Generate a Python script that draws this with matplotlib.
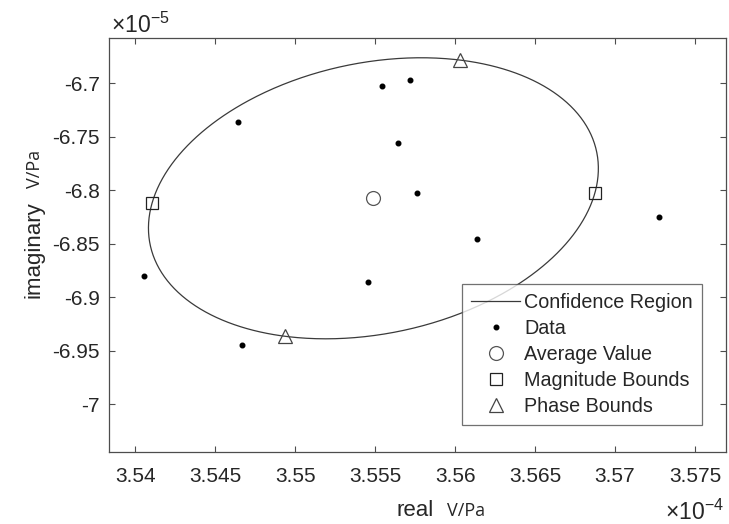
import matplotlib
matplotlib.use("Agg")
import matplotlib.pyplot as plt
from matplotlib.lines import Line2D
from matplotlib.ticker import FuncFormatter
import numpy as np

# 数据 (实部 ×1e-4, 虚部 ×1e-5)
real_vals = [3.54641, 3.55544, 3.55717, 3.55641, 3.55764,
             3.57275, 3.56138, 3.54054, 3.55454, 3.54665]
imag_vals = [-6.7359, -6.7022, -6.6972, -6.7558, -6.8025,
             -6.8253, -6.8457, -6.8803, -6.8856, -6.9448]
real_scale = 1e-4
imag_scale = 1e-5
conf_k = 1.57  # 置信区域的缩放系数

x_ticks = [3.54, 3.545, 3.55, 3.555, 3.56, 3.565, 3.57, 3.575]
y_ticks = [-7.0, -6.95, -6.9, -6.85, -6.8, -6.75, -6.7]
legend_labels = ["Confidence Region", "Data", "Average Value",
                 "Magnitude Bounds", "Phase Bounds"]

plt.rcParams["font.family"] = ["Liberation Sans", "DejaVu Sans"]
plt.rcParams["axes.unicode_minus"] = False
plt.rcParams["mathtext.fontset"] = "custom"
plt.rcParams["mathtext.rm"] = "Liberation Sans"
plt.rcParams["mathtext.default"] = "regular"

W, H = 729, 524
txt_c = "#262626"

# 物理量
z = np.array(real_vals) * real_scale + 1j * np.array(imag_vals) * imag_scale
mu = z.mean()
cov = np.cov(z.real, z.imag)
evals, evecs = np.linalg.eigh(cov)
t = np.linspace(0, 2 * np.pi, 721)
circ = np.vstack([np.cos(t), np.sin(t)])
pts = evecs @ (np.sqrt(evals)[:, None] * circ) * conf_k
ell = mu + pts[0] + 1j * pts[1]

# 幅值和相位的边界
mag = np.abs(ell)
ph = np.angle(ell)
mag_b = ell[[np.argmin(mag), np.argmax(mag)]]
ph_b = ell[[np.argmin(ph), np.argmax(ph)]]

def sx(v):
    return np.real(v) / real_scale

def sy(v):
    return np.imag(v) / imag_scale

fig = plt.figure(figsize=(W / 100, H / 100), dpi=100)
ax = fig.add_axes([109.3 / W, 1 - 451.7 / H, (725.7 - 109.3) / W, (451.7 - 37.7) / H])

ax.plot(sx(ell), sy(ell), color="#3a3a3a", lw=0.9)
ax.plot(sx(z), sy(z), "o", color="black", ms=3.3, ls="none")
ax.plot(sx(mu), sy(mu), "o", mfc="white", mec="#555555", mew=0.9, ms=10)
ax.plot(sx(mag_b), sy(mag_b), "s", mfc="none", mec="#222222", mew=0.9, ms=8, ls="none")
ax.plot(sx(ph_b), sy(ph_b), "^", mfc="none", mec="#444444", mew=0.9, ms=10.5, ls="none")

ax.set_xlim(3.53838, 3.57692)
ax.set_ylim(-7.0446, -6.6573)
ax.set_xticks(x_ticks)
ax.set_yticks(y_ticks)
fmt = FuncFormatter(lambda v, _: f"{v:g}")
ax.xaxis.set_major_formatter(fmt)
ax.yaxis.set_major_formatter(fmt)
ax.tick_params(direction="in", top=True, right=True, length=4.5, width=0.8,
               labelsize=15, colors="#4d4d4d", labelcolor=txt_c)
ax.tick_params(axis="x", pad=11)
ax.tick_params(axis="y", pad=7)
for s in ax.spines.values():
    s.set_color("#4d4d4d")
    s.set_linewidth(0.9)

# 图例
handles = [
    Line2D([], [], color="#3a3a3a", lw=0.9),
    Line2D([], [], marker="o", color="black", ms=3.3, ls="none"),
    Line2D([], [], marker="o", mfc="white", mec="#555555", mew=0.9, ms=10, ls="none"),
    Line2D([], [], marker="s", mfc="none", mec="#222222", mew=0.9, ms=8, ls="none"),
    Line2D([], [], marker="^", mfc="none", mec="#444444", mew=0.9, ms=10.5, ls="none"),
]
leg = ax.legend(handles, legend_labels, loc="upper left",
                bbox_to_anchor=(462 / W, 1 - 284 / H), bbox_transform=fig.transFigure,
                borderaxespad=0, fontsize=14.2, frameon=True, fancybox=False,
                handlelength=2.5, handletextpad=0.2, labelspacing=0.36,
                borderpad=0.45, labelcolor=txt_c)
leg.get_frame().set_edgecolor("#4d4d4d")
leg.get_frame().set_linewidth(0.9)

# 轴标签
fig.text(397 / W, 1 - 516 / H, "real", fontsize=16, color=txt_c, ha="left", va="baseline")
fig.text(447 / W, 1 - 516 / H, "V/Pa", fontsize=13, family="Open Sans", color=txt_c,
         ha="left", va="baseline")
fig.text(39 / W, 1 - 298 / H, "imaginary", fontsize=16, color=txt_c, rotation=90,
         rotation_mode="anchor", ha="left", va="baseline")
fig.text(40 / W, 1 - 188 / H, "V/Pa", fontsize=13, family="Open Sans", color=txt_c,
         rotation=90, rotation_mode="anchor", ha="left", va="baseline")

# 倍数标注
fig.text(111 / W, 1 - 33.3 / H, r"$\times10^{-5}$", fontsize=16.5, color=txt_c,
         ha="left", va="baseline")
fig.text(724 / W, 1 - 520 / H, r"$\times10^{-4}$", fontsize=16.5, color=txt_c,
         ha="right", va="baseline")

fig.savefig("out.png", dpi=100)
